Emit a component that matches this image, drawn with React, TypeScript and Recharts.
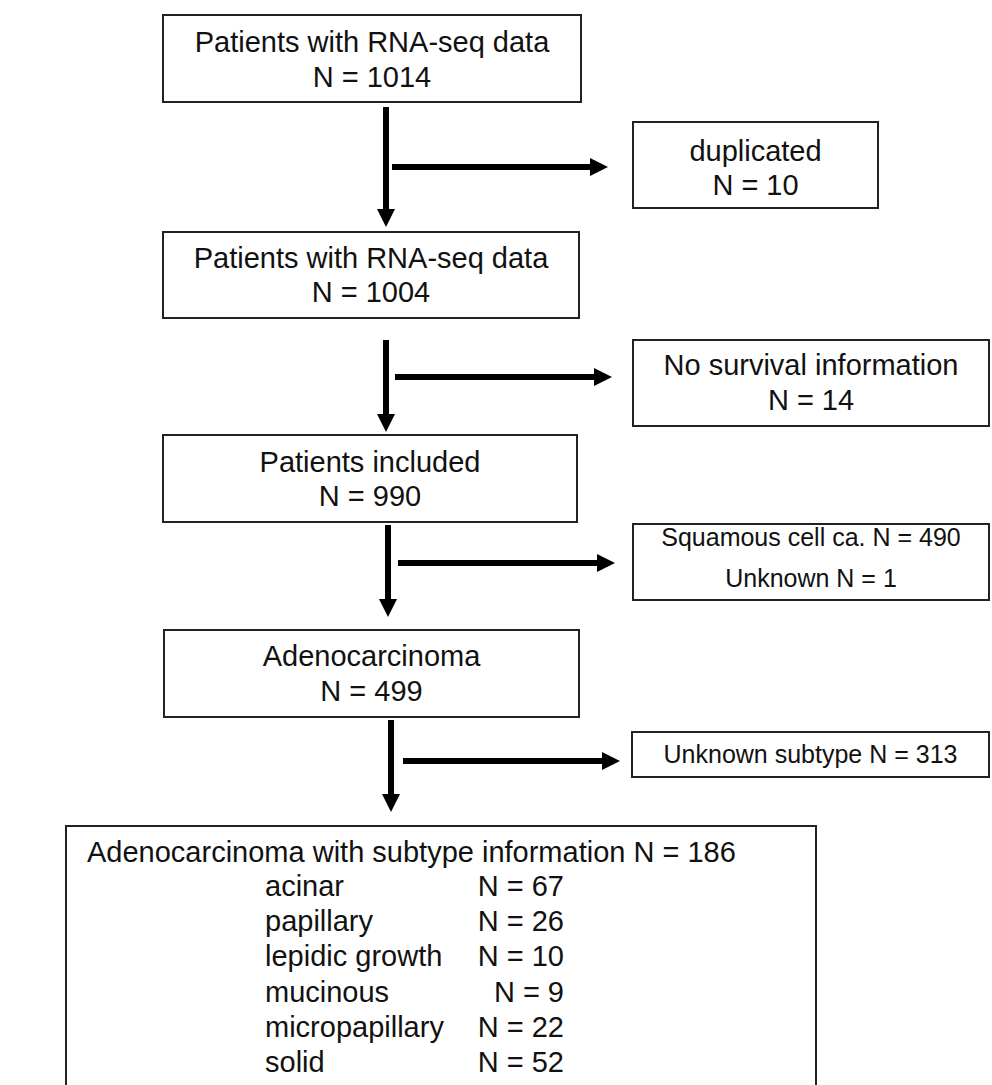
import React from 'react';
import { ComposedChart, XAxis, YAxis, Scatter, ReferenceArea, ReferenceLine } from 'recharts';

// counts
const stageLabels = ['Patients with RNA-seq data', 'Patients with RNA-seq data', 'Patients included', 'Adenocarcinoma'];
const stageCounts = [1014, 1004, 990, 499];
const exclusionLabels = ['duplicated', 'No survival information', 'Squamous cell ca.', 'Unknown subtype'];
const exclusionCounts = [10, 14, 490, 313];
const unknownHistologyCount = 1;
const subtypeTitle = 'Adenocarcinoma with subtype information';
const subtypeTotal = 186;
const subtypeNames = ['acinar', 'papillary', 'lepidic growth', 'mucinous', 'micropapillary', 'solid'];
const subtypeCounts = [67, 26, 10, 9, 22, 52];

const W = 992;
const H = 1085;
const FONT = '"Liberation Sans", Arial, sans-serif';

// box geometry (page pixels)
const stageBoxes = [
  { x1: 163, x2: 581, y1: 15, y2: 102, lines: [52, 87] },
  { x1: 163, x2: 579, y1: 232, y2: 318, lines: [268, 302] },
  { x1: 163, x2: 577, y1: 435, y2: 522, lines: [472, 506] },
  { x1: 164, x2: 579, y1: 630, y2: 717, lines: [666, 701] },
];
const exclusionBoxes = [
  { x1: 633, x2: 878, y1: 122, y2: 208, lines: [161, 195], size: 29 },
  { x1: 633, x2: 989, y1: 340, y2: 426, lines: [375, 410], size: 29 },
  { x1: 633, x2: 989, y1: 524, y2: 600, lines: [546, 587], size: 25 },
  { x1: 632, x2: 989, y1: 732, y2: 777, lines: [763], size: 25 },
];
const finalBox = { x1: 66, x2: 816, y1: 826, y2: 1100 };

const downArrows = [
  { x: 386, y1: 107, y2: 227 },
  { x: 386, y1: 340, y2: 432 },
  { x: 388, y1: 525, y2: 617 },
  { x: 391, y1: 720, y2: 812 },
];
const sideArrows = [
  { y: 167, x1: 392, x2: 608 },
  { y: 377, x1: 395, x2: 612 },
  { y: 563, x1: 398, x2: 615 },
  { y: 761, x1: 403, x2: 620 },
];

type TextItem = { x: number; y: number; text: string; size: number; anchor: string };

const texts: TextItem[] = [];
stageBoxes.forEach((b, i) => {
  const cx = (b.x1 + b.x2) / 2;
  texts.push({ x: cx, y: b.lines[0], text: stageLabels[i], size: 29, anchor: 'middle' });
  texts.push({ x: cx, y: b.lines[1], text: `N = ${stageCounts[i]}`, size: 29, anchor: 'middle' });
});
exclusionBoxes.forEach((b, i) => {
  const cx = (b.x1 + b.x2) / 2;
  if (i === 2) {
    texts.push({ x: cx, y: b.lines[0], text: `${exclusionLabels[i]} N = ${exclusionCounts[i]}`, size: b.size, anchor: 'middle' });
    texts.push({ x: cx, y: b.lines[1], text: `Unknown N = ${unknownHistologyCount}`, size: b.size, anchor: 'middle' });
  } else if (i === 3) {
    texts.push({ x: cx, y: b.lines[0], text: `${exclusionLabels[i]} N = ${exclusionCounts[i]}`, size: b.size, anchor: 'middle' });
  } else {
    texts.push({ x: cx, y: b.lines[0], text: exclusionLabels[i], size: b.size, anchor: 'middle' });
    texts.push({ x: cx, y: b.lines[1], text: `N = ${exclusionCounts[i]}`, size: b.size, anchor: 'middle' });
  }
});
texts.push({ x: 87, y: 862, text: `${subtypeTitle} N = ${subtypeTotal}`, size: 29, anchor: 'start' });
subtypeNames.forEach((name, i) => {
  const y = 896 + i * 35.2;
  texts.push({ x: 265, y, text: name, size: 29, anchor: 'start' });
  texts.push({ x: 564, y, text: `N = ${subtypeCounts[i]}`, size: 29, anchor: 'end' });
});

const TextShape = (props: any) => {
  const { cx, cy, payload } = props;
  return (
    <text x={cx} y={cy} textAnchor={payload.anchor} fontSize={payload.size} fontFamily={FONT} fill="#111">
      {payload.text}
    </text>
  );
};

const ArrowShape = (props: any) => {
  const { x1, y1, x2, y2 } = props;
  const len = Math.hypot(x2 - x1, y2 - y1) || 1;
  const ux = (x2 - x1) / len;
  const uy = (y2 - y1) / len;
  const head = 18;
  const half = 9;
  const bx = x2 - ux * head;
  const by = y2 - uy * head;
  const px = -uy * half;
  const py = ux * half;
  return (
    <g>
      <line x1={x1} y1={y1} x2={bx} y2={by} stroke="#000" strokeWidth={6} />
      <polygon points={`${x2},${y2} ${bx + px},${by + py} ${bx - px},${by - py}`} fill="#000" />
    </g>
  );
};

export default function App() {
  return (
    <div style={{ position: 'absolute', left: 0, top: 0, width: W, height: H, background: '#fff' }}>
      <ComposedChart width={W} height={H} margin={{ top: 0, right: 0, bottom: 0, left: 0 }}>
        <XAxis type="number" dataKey="x" domain={[0, W]} hide allowDataOverflow />
        <YAxis type="number" dataKey="y" domain={[0, H]} reversed hide width={0} allowDataOverflow />
        {[...stageBoxes, ...exclusionBoxes, finalBox].map((b, i) => (
          <ReferenceArea
            key={`box-${i}`}
            x1={b.x1}
            x2={b.x2}
            y1={b.y1}
            y2={b.y2}
            fill="#fff"
            fillOpacity={1}
            stroke="#222"
            strokeWidth={2}
            ifOverflow="hidden"
          />
        ))}
        {downArrows.map((a, i) => (
          <ReferenceLine
            key={`down-${i}`}
            segment={[{ x: a.x, y: a.y1 }, { x: a.x, y: a.y2 }]}
            shape={ArrowShape}
            ifOverflow="visible"
          />
        ))}
        {sideArrows.map((a, i) => (
          <ReferenceLine
            key={`side-${i}`}
            segment={[{ x: a.x1, y: a.y }, { x: a.x2, y: a.y }]}
            shape={ArrowShape}
            ifOverflow="visible"
          />
        ))}
        <Scatter data={texts} dataKey="y" shape={TextShape} isAnimationActive={false} />
      </ComposedChart>
    </div>
  );
}
